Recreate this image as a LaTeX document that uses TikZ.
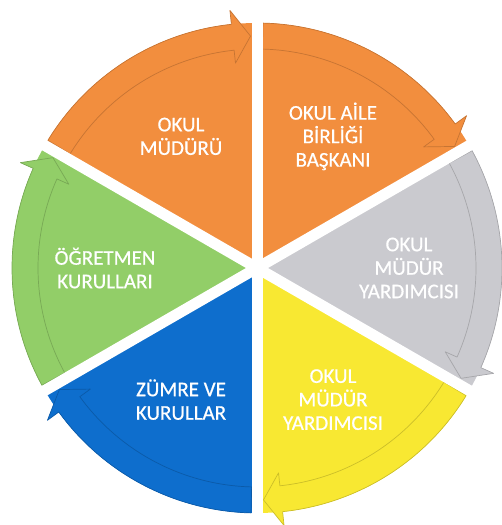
\documentclass[tikz,border=0pt]{standalone}
\usepackage{fontspec}
\setmainfont{Carlito}
\newfontfamily\yazifont{Carlito}[FakeBold=0.6]

\definecolor{turuncu}{RGB}{242,142,62}
\definecolor{gri}{RGB}{202,202,207}
\definecolor{sari}{RGB}{248,232,50}
\definecolor{mavi}{RGB}{14,110,205}
\definecolor{yesil}{RGB}{146,206,104}

\tikzset{
  dilim/.style={fill=#1},
  okbant/.style={fill=#1, draw=#1!82!black, line width=0.7pt, line join=round},
  etiket/.style={text=white, font=\yazifont\fontsize{21}{23.5}\selectfont, align=center}
}

\begin{document}
\begin{tikzpicture}[x=1pt,y=1pt]
\useasboundingbox (0,0) rectangle (502,525);
\begin{scope}[shift={(257,257)}]
  \coordinate (merkez) at (0,0);
  % dilimler, saat yonunde oklar
  \foreach \a/\renk/\yazi/\ad in {90/turuncu/{OKUL\\MÜDÜRÜ}/mudur,
      30/turuncu/{OKUL AİLE\\BİRLİĞİ\\BAŞKANI}/aile,
      -30/gri/{OKUL\\MÜDÜR\\YARDIMCISI}/yardimciA,
      -90/sari/{OKUL\\MÜDÜR\\YARDIMCISI}/yardimciB,
      -150/mavi/{ZÜMRE VE\\KURULLAR}/zumre,
      150/yesil/{ÖĞRETMEN\\KURULLARI}/ogretmen}{
    \pgfmathsetmacro{\b}{\a+60}
    \pgfmathsetmacro{\s}{\a+58.6}
    \pgfmathsetmacro{\h}{\a+6}
    \pgfmathsetmacro{\u}{\a+1.6}
    \fill[dilim=\renk] (merkez) -- (\a:245) arc[start angle=\a, end angle=\b, radius=245] -- cycle;
    \draw[okbant=\renk] (\s:245) arc[start angle=\s, end angle=\h, radius=245] -- (\h:259) -- (\u:232)
        -- (\h:206) -- (\h:219) arc[start angle=\h, end angle=\s, radius=219] -- cycle;
    \node[etiket] (\ad) at ({\a+30}:152) {\yazi};
  }
  % beyaz araliklar
  \foreach \a in {90,30,...,-210} \draw[white, line width=11pt] (merkez) -- (\a:265);
\end{scope}
\end{tikzpicture}
\end{document}
